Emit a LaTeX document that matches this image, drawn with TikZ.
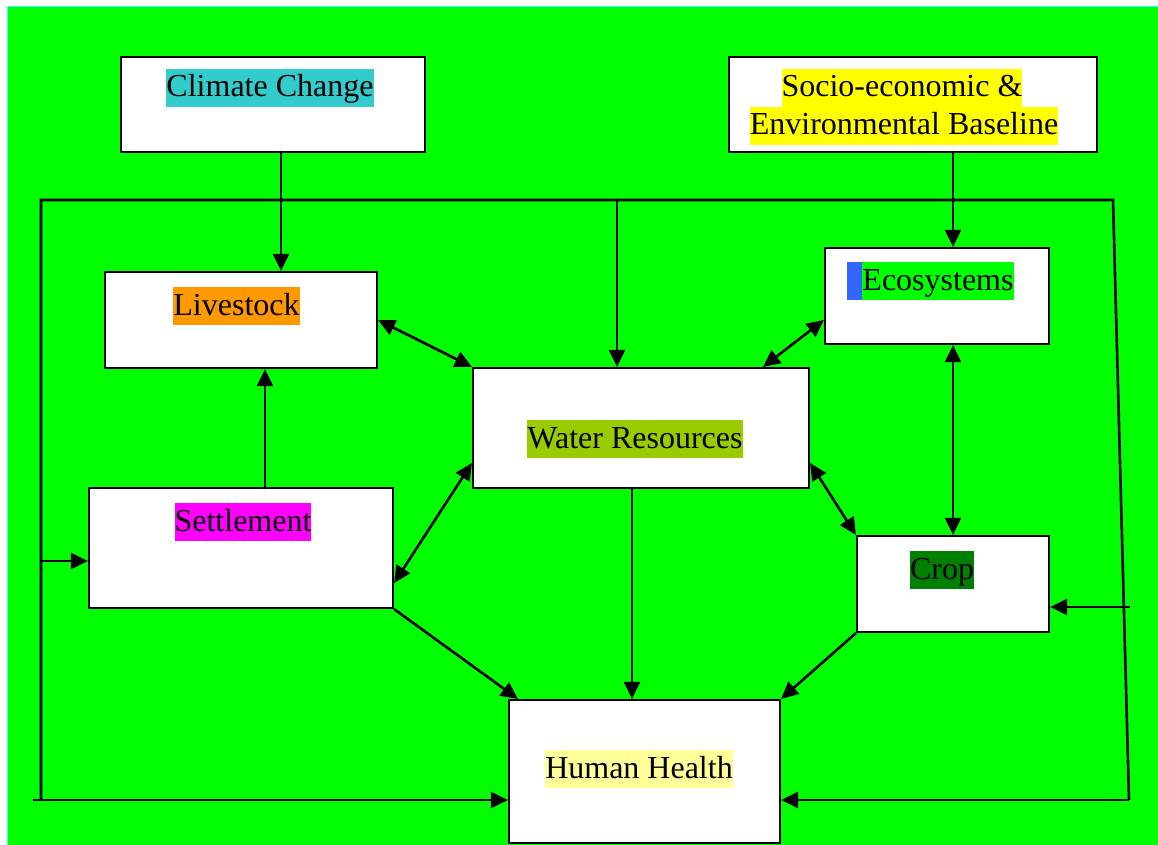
\documentclass[tikz,border=0pt]{standalone}
\usepackage{fontspec}
\setmainfont{Liberation Serif}
\usetikzlibrary{arrows.meta,calc}
\definecolor{bggreen}{HTML}{00FF00}
\definecolor{edgecyan}{HTML}{33FFFF}
\definecolor{hlcyan}{HTML}{33CCCC}
\definecolor{hlyellow}{HTML}{FFFF00}
\definecolor{hlorange}{HTML}{FF9900}
\definecolor{hlblue}{HTML}{3366FF}
\definecolor{hlolive}{HTML}{99CC00}
\definecolor{hlmagenta}{HTML}{FF00FF}
\definecolor{hldkgreen}{HTML}{008000}
\definecolor{hllight}{HTML}{FFFF99}
\tikzset{
  box/.style={draw=black, line width=2.2pt, fill=white, rectangle, inner sep=0pt},
  lbl/.style={inner xsep=0pt, inner ysep=0pt, text height=28pt, text depth=10pt,
    font=\fontsize{32}{37}\selectfont},
  conn/.style={line width=2.6pt, -{Triangle[length=17pt,width=16pt]}},
  conn2/.style={line width=2.6pt, {Triangle[length=17pt,width=16pt]}-{Triangle[length=17pt,width=16pt]}},
  frame/.style={line width=2.6pt}
}
\begin{document}
\begin{tikzpicture}[x=1pt,y=-1pt]
\useasboundingbox (0,0) rectangle (1158,845);
\fill[bggreen] (8,7) rectangle (1158,845);
\draw[edgecyan, line width=1.5pt] (7.5,845) -- (7.5,6.5) -- (1158,6.5);

% boxes
\node[box, minimum width=304pt, minimum height=95pt] (cc) at (273,104.5) {};
\node[box, minimum width=368pt, minimum height=95pt] (se) at (913,104.5) {};
\node[box, minimum width=272pt, minimum height=96pt] (live) at (241,320) {};
\node[box, minimum width=224pt, minimum height=96pt] (eco) at (937,296) {};
\node[box, minimum width=336pt, minimum height=120pt] (water) at (641,428) {};
\node[box, minimum width=304pt, minimum height=120pt] (set) at (241,548) {};
\node[box, minimum width=192pt, minimum height=96pt] (crop) at (953,584) {};
\node[box, minimum width=271pt, minimum height=143pt] (hh) at (644.5,771.5) {};

% labels
\node[lbl, fill=hlcyan] (tcc) at (270,88) {Climate Change};
\node[lbl, fill=hlyellow] (tse1) at (902,88) {Socio-economic \&};
\node[lbl, fill=hlyellow] (tse2) at (904,126) {Environmental Baseline};
\node[lbl, fill=hlorange] (tlive) at (236.5,306) {Livestock};
\node[lbl, fill=bggreen] (teco) at (938,281) {Ecosystems};
\node[fill=hlblue, inner sep=0pt, minimum width=15pt, minimum height=38pt, anchor=east] (ecobar) at (teco.west) {};
\node[lbl, fill=hlolive] (twater) at (635,439) {Water Resources};
\node[lbl, fill=hlmagenta] (tset) at (243,522) {Settlement};
\node[lbl, fill=hldkgreen] (tcrop) at (942,570) {Crop};
\node[lbl, fill=hllight] (thh) at (639,769) {Human Health};

% frame
\coordinate (ftl) at (41,200);
\coordinate (ftm) at (617,200);
\coordinate (ftr) at (1113,200);
\coordinate (fbr) at (1129,800);
\coordinate (fbl) at (41,800);
\coordinate (fbll) at (33,800);
\coordinate (fcr) at (1130,607);
\draw[frame] (fbl) -- (ftl) -- (ftr) -- (fbr);

% connectors
\draw[conn] ([xshift=8pt]cc.south) -- ([xshift=8pt]cc.south |- live.north);
\draw[conn] ([xshift=40pt]se.south) -- ([xshift=40pt]se.south |- eco.north);
\draw[conn] (ftm) -- (ftm |- water.north);
\draw[conn2] (live.east) -- (water.north west);
\draw[conn2] ([yshift=-24pt]eco.west) -- ([xshift=-47pt]water.north east);
\draw[conn2] ([yshift=-35pt]set.east) -- ([yshift=-35pt]water.west);
\draw[conn2] ([yshift=-35pt]water.east) -- (crop.north west);
\draw[conn2] (eco.south -| crop.north) -- (crop.north);
\draw[conn] ([xshift=24pt]set.north) -- ([xshift=24pt]set.north |- live.south);
\draw[conn] ([xshift=-9pt]water.south) -- ([xshift=-9pt]water.south |- hh.north);
\draw[conn] (set.south east) -- ([xshift=10pt]hh.north west);
\draw[conn] (crop.south west) -- (hh.north east);
\draw[conn] (ftl |- set.west) ++(0,13) coordinate (sl) (sl) -- (sl -| set.west);
\draw[conn] (fcr) -- (fcr -| crop.east);
\draw[conn] (fbll) -- (fbll -| hh.west);
\draw[conn] (fbr) -- (fbr -| hh.east);
\end{tikzpicture}
\end{document}
